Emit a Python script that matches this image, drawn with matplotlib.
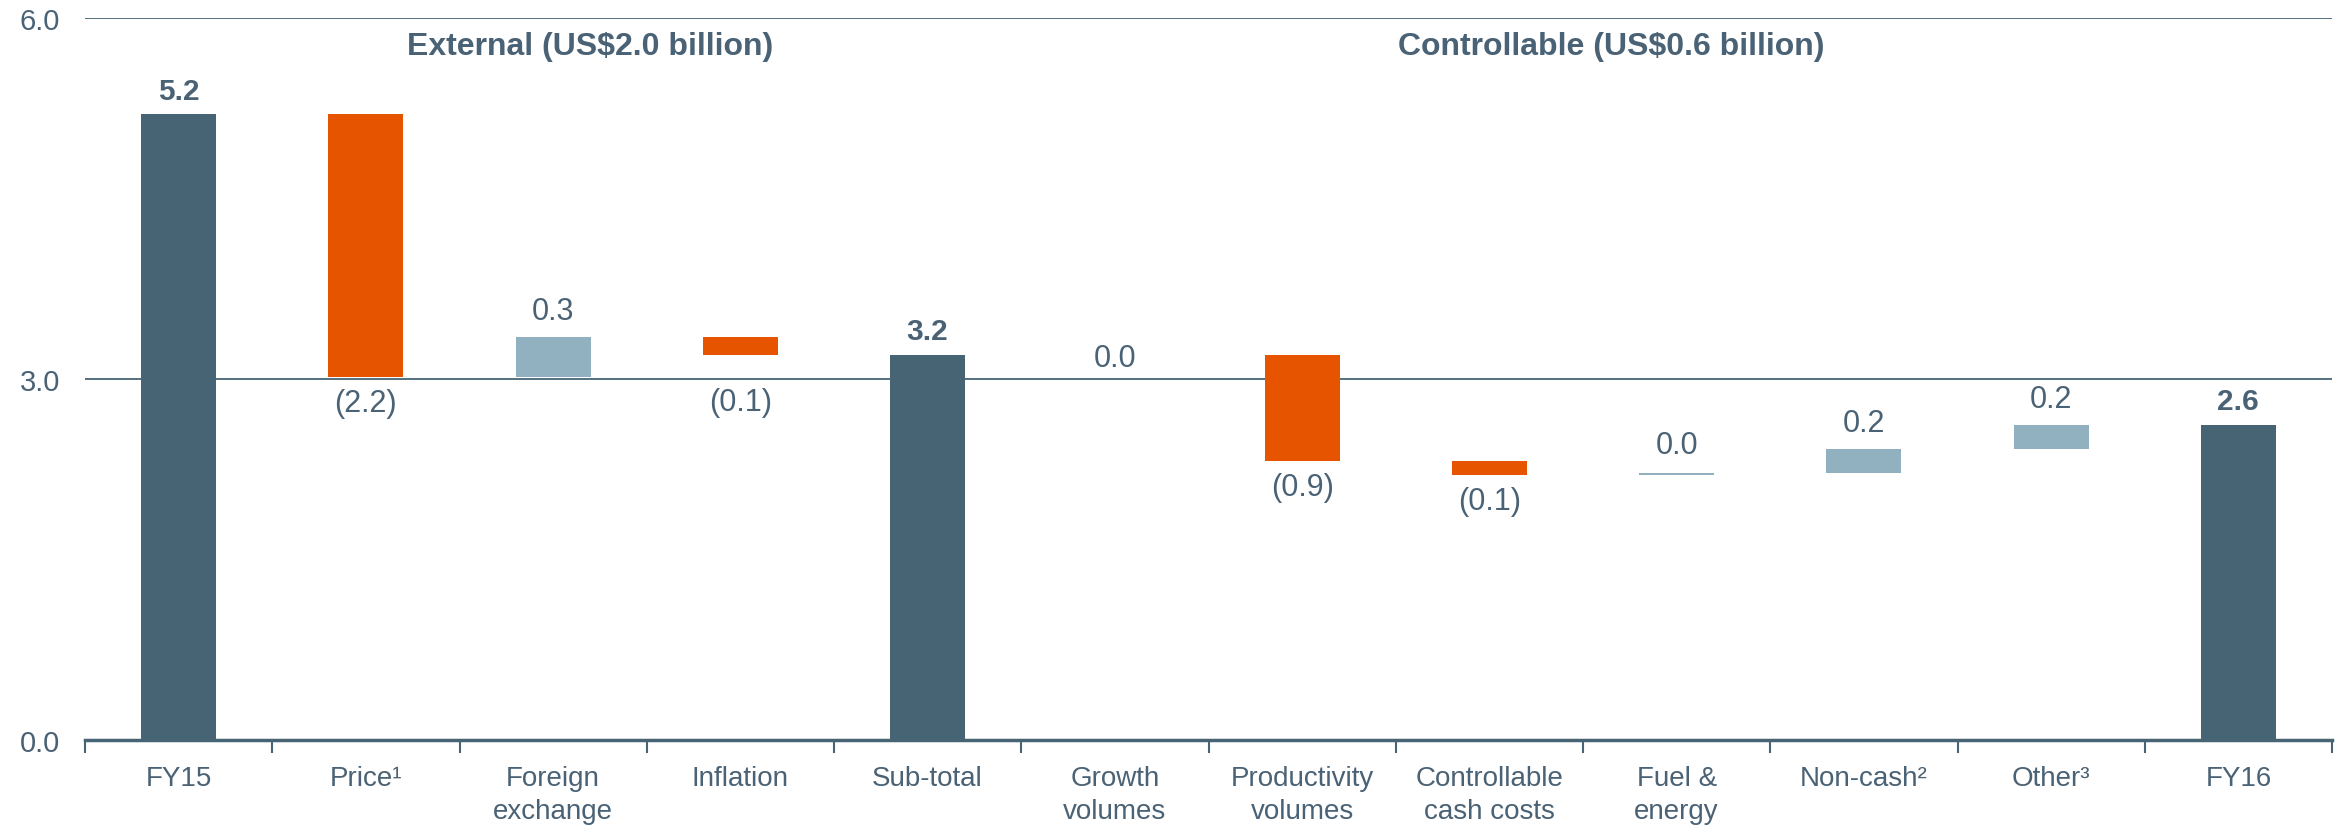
import matplotlib.pyplot as plt

plt.rcParams["font.family"] = ["Liberation Sans", "DejaVu Sans"]

categories = ["FY15", "Price¹", "Foreign\nexchange", "Inflation", "Sub-total",
              "Growth\nvolumes", "Productivity\nvolumes", "Controllable\ncash costs",
              "Fuel &\nenergy", "Non-cash²", "Other³", "FY16"]
kinds = ["total", "delta", "delta", "delta", "total", "delta",
         "delta", "delta", "delta", "delta", "delta", "total"]
values = [5.2, -2.18, 0.33, -0.15, 3.2, 0.0, -0.88, -0.12, 0.015, 0.2, 0.2, 2.62]
value_labels = ["5.2", "(2.2)", "0.3", "(0.1)", "3.2", "0.0", "(0.9)", "(0.1)",
                "0.0", "0.2", "0.2", "2.6"]
groups = ["External (US$2.0 billion)", "Controllable (US$0.6 billion)"]
group_x = [2.2, 7.65]

DARK = "#476475"
ORANGE = "#E65400"
LIGHT = "#92B1C0"
TEXT = "#4A6275"

# waterfall geometry
bottoms, heights, colors = [], [], []
running = 0.0
for k, v in zip(kinds, values):
    if k == "total":
        bottoms.append(0.0)
        heights.append(v)
        colors.append(DARK)
        running = v
    else:
        bottoms.append(running if v >= 0 else running + v)
        heights.append(abs(v))
        colors.append(LIGHT if v >= 0 else ORANGE)
        running += v

fig = plt.figure(figsize=(23.36, 8.29), dpi=100)
ax = fig.add_axes([85 / 2336, 88 / 829, 2247 / 2336, 722 / 829])

x = list(range(len(categories)))
ax.bar(x, heights, bottom=bottoms, width=0.4, color=colors, linewidth=0, zorder=3)

for i in x:
    top = bottoms[i] + heights[i]
    if kinds[i] == "total":
        ax.annotate(value_labels[i], (i, top), xytext=(0, 7), textcoords="offset points",
                    ha="center", va="bottom", fontsize=21.5, fontweight="bold", color=TEXT)
    elif values[i] < 0:
        # the inflation label sits lower, clear of the 3.0 gridline
        off = -23 if i == 3 else -8
        ax.annotate(value_labels[i], (i, bottoms[i]), xytext=(0, off), textcoords="offset points",
                    ha="center", va="top", fontsize=22, color=TEXT)
    elif values[i] == 0:
        ax.annotate(value_labels[i], (i, top), xytext=(0, -2), textcoords="offset points",
                    ha="center", va="center", fontsize=22, color=TEXT)
    else:
        off = 8 if values[i] > 0.05 else 10
        ax.annotate(value_labels[i], (i, top), xytext=(0, off), textcoords="offset points",
                    ha="center", va="bottom", fontsize=22, color=TEXT)

for g, gx in zip(groups, group_x):
    ax.text(gx, 5.77, g, ha="center", va="center", fontsize=23, fontweight="bold", color=TEXT)

ax.set_xlim(-0.5, len(categories) - 0.5)
ax.set_ylim(0, 6)
ax.set_yticks([0, 3, 6])
ax.set_yticklabels(["0.0", "3.0", "6.0"])
ax.yaxis.grid(True, color=DARK, linewidth=1.3, zorder=1)
ax.set_axisbelow(True)

ax.set_xticks(x)
ax.set_xticklabels(categories, fontsize=20, color=TEXT, linespacing=1.35)
ax.set_xticks([i - 0.5 for i in range(len(categories) + 1)], minor=True)
ax.tick_params(axis="x", which="major", length=0, pad=18)
ax.tick_params(axis="x", which="minor", length=9, width=1.5, color=DARK, direction="out")
ax.tick_params(axis="y", length=0, pad=18, labelsize=21, labelcolor=TEXT)
for lab in ax.get_xticklabels():
    lab.set_verticalalignment("top")

for s in ["top", "right", "left"]:
    ax.spines[s].set_visible(False)
ax.spines["bottom"].set_color(DARK)
ax.spines["bottom"].set_linewidth(2.5)
ax.spines["bottom"].set_zorder(4)

plt.savefig("out.png", dpi=100)
